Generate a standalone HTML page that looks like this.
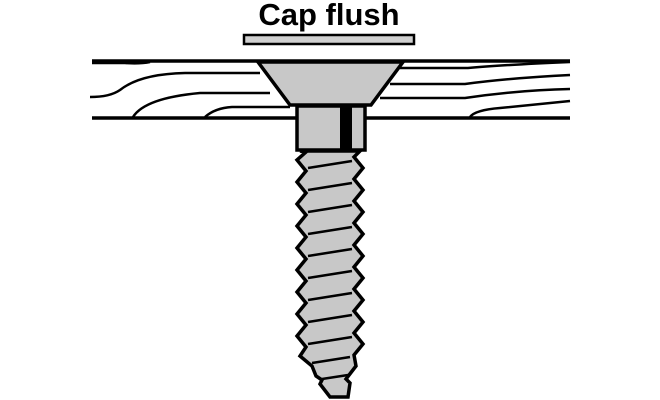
<!DOCTYPE html>
<html><head><style>
html,body{margin:0;padding:0;background:#fff;}
svg{display:block;}
</style></head><body>
<svg width="660" height="400" viewBox="0 0 660 400" xmlns="http://www.w3.org/2000/svg">
<text x="329" y="25" text-anchor="middle" font-family="Liberation Sans, sans-serif" font-weight="bold" font-size="31" fill="#000">Cap flush</text>
<rect x="244" y="35" width="170" height="9" fill="#d0d0d0" stroke="#000" stroke-width="2.5"/>
<g stroke="#000" fill="none" stroke-width="2.5">
<line x1="92" y1="61" x2="570" y2="61" stroke-width="3.5"/>
<line x1="92" y1="118" x2="570" y2="118" stroke-width="3.5"/>
<path d="M92 63 L125 63 Q140 64 150 62"/>
<path d="M90 97 Q110 97 120 90 Q140 74 185 73 L260 73"/>
<path d="M133 117 Q145 98 200 93 L270 93"/>
<path d="M205 117 Q215 108 232 107 L290 107"/>
<path d="M400 68 L468 68 Q500 65 570 62"/>
<path d="M390 84 L465 84 Q510 78 570 75"/>
<path d="M380 98 L465 98 Q520 90 570 89"/>
<path d="M470 117 Q475 110 500 108 Q540 104 570 101"/>
</g>
<polygon points="258,62 403,62 371,105 290,105" fill="#c8c8c8" stroke="#000" stroke-width="3.5" stroke-linejoin="miter"/>
<rect x="297" y="106" width="68" height="44" fill="#c8c8c8" stroke="#000" stroke-width="3.5"/>
<rect x="340" y="107" width="12" height="42" fill="#000"/>
<polygon fill="#c8c8c8" stroke="#000" stroke-width="3.5" stroke-linejoin="miter" points="
300,151 306,152 297,160 306,171 297,182 306,193 297,204 306,215 297,226 306,237 297,248 306,259 297,270 306,281 297,292 306,303 297,314 306,325 297,336 306,347 300,356 312,366 316,376 322,380 320,384 330,397 348,397 350,383 346,379 356,366 354,355 363,344 354,333 363,322 354,311 363,300 354,289 363,278 354,267 363,256 354,245 363,234 354,223 363,212 354,201 363,190 354,179 363,168 354,157 360,151"/>
<g stroke="#000" stroke-width="2.5">
<line x1="308" y1="168" x2="352" y2="161"/>
<line x1="308" y1="190" x2="352" y2="183"/>
<line x1="308" y1="212" x2="352" y2="205"/>
<line x1="308" y1="234" x2="352" y2="227"/>
<line x1="308" y1="256" x2="352" y2="249"/>
<line x1="308" y1="278" x2="352" y2="271"/>
<line x1="308" y1="300" x2="352" y2="293"/>
<line x1="308" y1="322" x2="352" y2="315"/>
<line x1="308" y1="344" x2="352" y2="337"/>
<line x1="312" y1="363" x2="350" y2="357"/>
<line x1="322" y1="379" x2="348" y2="375"/>
</g>
</svg>
</body></html>
